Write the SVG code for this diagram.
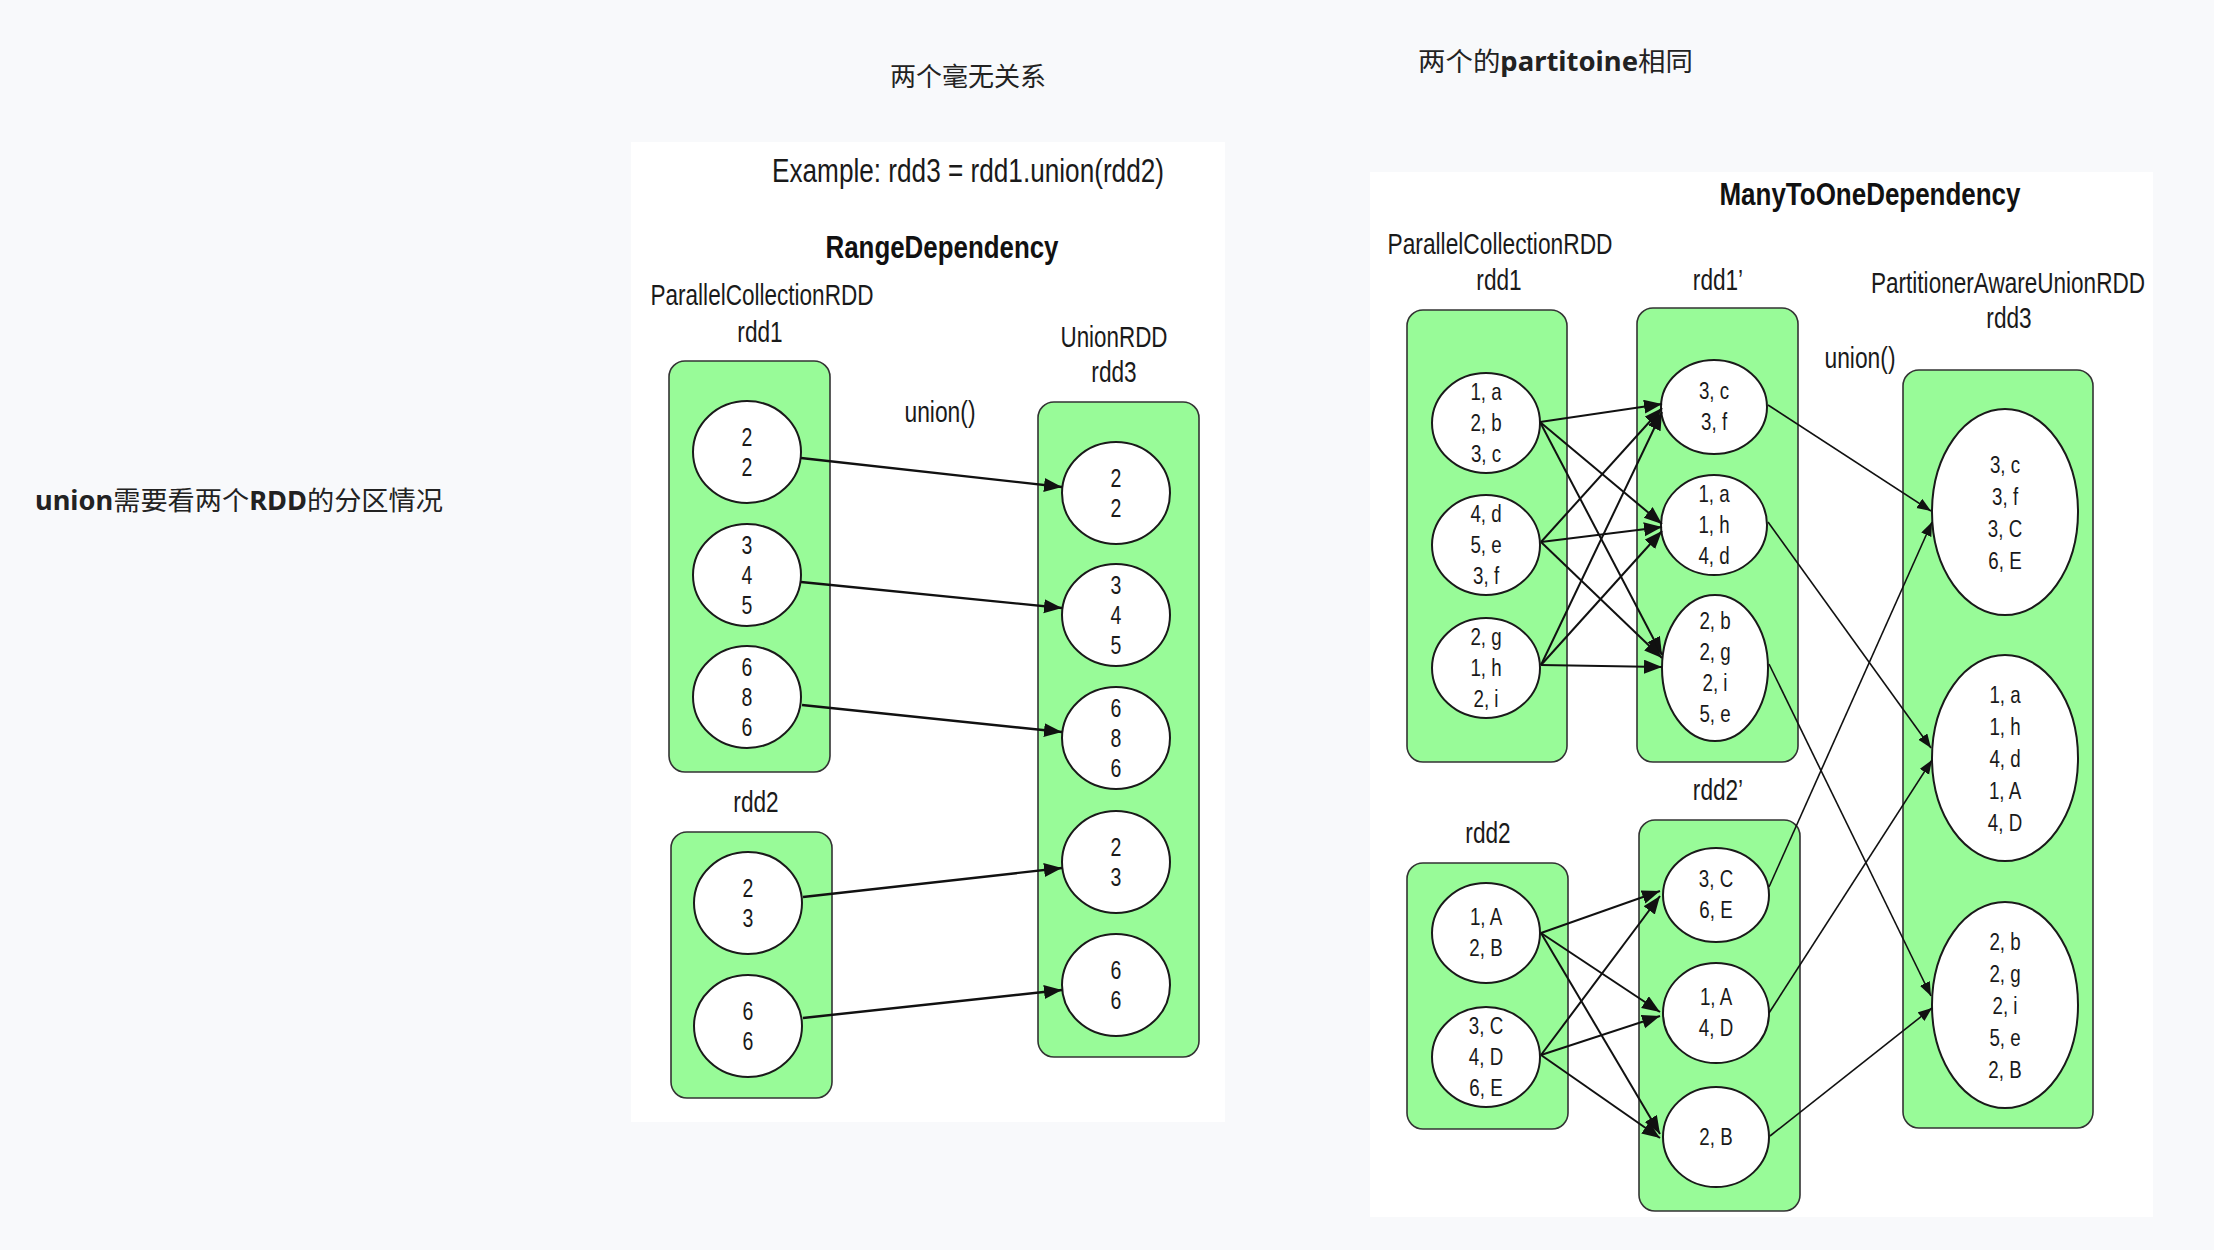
<svg xmlns="http://www.w3.org/2000/svg" width="2214" height="1250" viewBox="0 0 2214 1250">
<style>
.lbl{font-family:"Liberation Sans",Arial,sans-serif;font-size:29px;fill:#1a1a1a;text-anchor:middle}
.ttl{font-family:"Liberation Sans",Arial,sans-serif;font-size:31px;font-weight:bold;fill:#111;text-anchor:middle}
.ct{font-family:"Liberation Sans",Arial,sans-serif;font-size:25px;fill:#1a1a1a;text-anchor:middle}
.cr{font-family:"Liberation Sans",Arial,sans-serif;font-size:24px;fill:#1a1a1a;text-anchor:middle}
.sx,.ct,.cr{transform-box:fill-box;transform-origin:center;transform:scaleX(0.78)}
.note{font-family:"Noto Sans CJK SC","Noto Sans",sans-serif;font-size:26px;fill:#222}
.hb{font-family:"Noto Sans","Noto Sans CJK SC",sans-serif;font-weight:bold}
.box{fill:#98fb98;stroke:#333;stroke-width:1.6}
.cir{fill:#fff;stroke:#1a1a1a;stroke-width:2}
.a1{stroke:#111;stroke-width:2.4;fill:none;marker-end:url(#ah1)}
.a2{stroke:#111;stroke-width:2;fill:none;marker-end:url(#ah2)}
.a3{stroke:#111;stroke-width:1.6;fill:none;marker-end:url(#ah3)}
</style>
<defs>
<marker id="ah1" markerUnits="userSpaceOnUse" markerWidth="20" markerHeight="16" refX="18" refY="7" orient="auto"><path d="M0,0 L18,7 L0,14 z" fill="#111"/></marker>
<marker id="ah2" markerUnits="userSpaceOnUse" markerWidth="20" markerHeight="16" refX="18" refY="7" orient="auto"><path d="M0,0 L18,7 L0,14 z" fill="#111"/></marker>
<marker id="ah3" markerUnits="userSpaceOnUse" markerWidth="16" markerHeight="12" refX="14" refY="5.5" orient="auto"><path d="M0,0 L14,5.5 L0,11 z" fill="#111"/></marker>
</defs>
<rect x="0" y="0" width="2214" height="1250" fill="#f8f9fb"/>

<g id="notes">
<text class="note" x="968" y="86" text-anchor="middle">两个毫无关系</text>
<text class="note" x="1418" y="71" textLength="275" lengthAdjust="spacingAndGlyphs">两个的<tspan class="hb">partitoine</tspan>相同</text>
<text class="note" x="35" y="510" textLength="408" lengthAdjust="spacingAndGlyphs"><tspan class="hb">union</tspan>需要看两个<tspan class="hb">RDD</tspan>的分区情况</text>
</g>

<g id="panel-range">
<rect x="631" y="142" width="594" height="980" fill="#fff"/>
<text class="lbl" x="968" y="182" style="font-size:34px" textLength="392" lengthAdjust="spacingAndGlyphs">Example: rdd3 = rdd1.union(rdd2)</text>
<text class="ttl" x="942" y="258" textLength="233" lengthAdjust="spacingAndGlyphs">RangeDependency</text>
<text class="lbl" x="762" y="305" textLength="223" lengthAdjust="spacingAndGlyphs">ParallelCollectionRDD</text>
<text class="lbl sx" x="760" y="342">rdd1</text>
<text class="lbl" x="1114" y="347" textLength="107" lengthAdjust="spacingAndGlyphs">UnionRDD</text>
<text class="lbl sx" x="1114" y="382">rdd3</text>
<text class="lbl" x="940" y="422" textLength="71" lengthAdjust="spacingAndGlyphs">union()</text>
<text class="lbl sx" x="756" y="812">rdd2</text>
</g>

<g id="rangeRdd1">
<rect class="box" x="669" y="361" width="161" height="411" rx="16"/>
<ellipse class="cir" cx="747" cy="452" rx="54" ry="51"/>
<text class="ct" x="747" y="446">2</text><text class="ct" x="747" y="476">2</text>
<ellipse class="cir" cx="747" cy="575" rx="54" ry="51"/>
<text class="ct" x="747" y="554">3</text><text class="ct" x="747" y="584">4</text><text class="ct" x="747" y="614">5</text>
<ellipse class="cir" cx="747" cy="697" rx="54" ry="51"/>
<text class="ct" x="747" y="676">6</text><text class="ct" x="747" y="706">8</text><text class="ct" x="747" y="736">6</text>
</g>

<g id="rangeRdd2">
<rect class="box" x="671" y="832" width="161" height="266" rx="16"/>
<ellipse class="cir" cx="748" cy="903" rx="54" ry="51"/>
<text class="ct" x="748" y="897">2</text><text class="ct" x="748" y="927">3</text>
<ellipse class="cir" cx="748" cy="1026" rx="54" ry="51"/>
<text class="ct" x="748" y="1020">6</text><text class="ct" x="748" y="1050">6</text>
</g>

<g id="rangeRdd3">
<rect class="box" x="1038" y="402" width="161" height="655" rx="16"/>
<ellipse class="cir" cx="1116" cy="493" rx="54" ry="51"/>
<text class="ct" x="1116" y="487">2</text><text class="ct" x="1116" y="517">2</text>
<ellipse class="cir" cx="1116" cy="615" rx="54" ry="51"/>
<text class="ct" x="1116" y="594">3</text><text class="ct" x="1116" y="624">4</text><text class="ct" x="1116" y="654">5</text>
<ellipse class="cir" cx="1116" cy="738" rx="54" ry="51"/>
<text class="ct" x="1116" y="717">6</text><text class="ct" x="1116" y="747">8</text><text class="ct" x="1116" y="777">6</text>
<ellipse class="cir" cx="1116" cy="862" rx="54" ry="51"/>
<text class="ct" x="1116" y="856">2</text><text class="ct" x="1116" y="886">3</text>
<ellipse class="cir" cx="1116" cy="985" rx="54" ry="51"/>
<text class="ct" x="1116" y="979">6</text><text class="ct" x="1116" y="1009">6</text>
</g>

<g id="panel-many">
<rect x="1370" y="172" width="783" height="1045" fill="#fff"/>
<text class="ttl" x="1870" y="205" textLength="301" lengthAdjust="spacingAndGlyphs">ManyToOneDependency</text>
<text class="lbl" x="1500" y="254" textLength="225" lengthAdjust="spacingAndGlyphs">ParallelCollectionRDD</text>
<text class="lbl sx" x="1499" y="290">rdd1</text>
<text class="lbl sx" x="1718" y="290">rdd1’</text>
<text class="lbl" x="2008" y="293" textLength="274" lengthAdjust="spacingAndGlyphs">PartitionerAwareUnionRDD</text>
<text class="lbl sx" x="2009" y="328">rdd3</text>
<text class="lbl" x="1860" y="368" textLength="71" lengthAdjust="spacingAndGlyphs">union()</text>
<text class="lbl sx" x="1718" y="800">rdd2’</text>
<text class="lbl sx" x="1488" y="843">rdd2</text>
</g>

<g id="mRdd1">
<rect class="box" x="1407" y="310" width="160" height="452" rx="16"/>
<ellipse class="cir" cx="1486" cy="423" rx="54" ry="50"/>
<text class="cr" x="1486" y="400">1, a</text><text class="cr" x="1486" y="431">2, b</text><text class="cr" x="1486" y="462">3, c</text>
<ellipse class="cir" cx="1486" cy="545" rx="54" ry="50"/>
<text class="cr" x="1486" y="522">4, d</text><text class="cr" x="1486" y="553">5, e</text><text class="cr" x="1486" y="584">3, f</text>
<ellipse class="cir" cx="1486" cy="668" rx="54" ry="50"/>
<text class="cr" x="1486" y="645">2, g</text><text class="cr" x="1486" y="676">1, h</text><text class="cr" x="1486" y="707">2, i</text>
</g>

<g id="mRdd1p">
<rect class="box" x="1637" y="308" width="161" height="454" rx="16"/>
<ellipse class="cir" cx="1714" cy="407" rx="53" ry="47"/>
<text class="cr" x="1714" y="399">3, c</text><text class="cr" x="1714" y="430">3, f</text>
<ellipse class="cir" cx="1714" cy="525" rx="53" ry="50"/>
<text class="cr" x="1714" y="502">1, a</text><text class="cr" x="1714" y="533">1, h</text><text class="cr" x="1714" y="564">4, d</text>
<ellipse class="cir" cx="1715" cy="668" rx="53" ry="73"/>
<text class="cr" x="1715" y="629">2, b</text><text class="cr" x="1715" y="660">2, g</text><text class="cr" x="1715" y="691">2, i</text><text class="cr" x="1715" y="722">5, e</text>
</g>

<g id="mRdd2">
<rect class="box" x="1407" y="863" width="161" height="266" rx="16"/>
<ellipse class="cir" cx="1486" cy="933" rx="54" ry="50"/>
<text class="cr" x="1486" y="925">1, A</text><text class="cr" x="1486" y="956">2, B</text>
<ellipse class="cir" cx="1486" cy="1057" rx="54" ry="50"/>
<text class="cr" x="1486" y="1034">3, C</text><text class="cr" x="1486" y="1065">4, D</text><text class="cr" x="1486" y="1096">6, E</text>
</g>

<g id="mRdd2p">
<rect class="box" x="1639" y="820" width="161" height="391" rx="16"/>
<ellipse class="cir" cx="1716" cy="895" rx="53" ry="47"/>
<text class="cr" x="1716" y="887">3, C</text><text class="cr" x="1716" y="918">6, E</text>
<ellipse class="cir" cx="1716" cy="1013" rx="53" ry="50"/>
<text class="cr" x="1716" y="1005">1, A</text><text class="cr" x="1716" y="1036">4, D</text>
<ellipse class="cir" cx="1716" cy="1137" rx="53" ry="50"/>
<text class="cr" x="1716" y="1145">2, B</text>
</g>

<g id="mRdd3">
<rect class="box" x="1903" y="370" width="190" height="758" rx="16"/>
<ellipse class="cir" cx="2005" cy="512" rx="73" ry="103"/>
<text class="cr" x="2005" y="473">3, c</text><text class="cr" x="2005" y="505">3, f</text><text class="cr" x="2005" y="537">3, C</text><text class="cr" x="2005" y="569">6, E</text>
<ellipse class="cir" cx="2005" cy="758" rx="73" ry="103"/>
<text class="cr" x="2005" y="703">1, a</text><text class="cr" x="2005" y="735">1, h</text><text class="cr" x="2005" y="767">4, d</text><text class="cr" x="2005" y="799">1, A</text><text class="cr" x="2005" y="831">4, D</text>
<ellipse class="cir" cx="2005" cy="1005" rx="73" ry="103"/>
<text class="cr" x="2005" y="950">2, b</text><text class="cr" x="2005" y="982">2, g</text><text class="cr" x="2005" y="1014">2, i</text><text class="cr" x="2005" y="1046">5, e</text><text class="cr" x="2005" y="1078">2, B</text>
</g>

<g id="connectors">
<line class="a1" x1="801" y1="458" x2="1062" y2="487"/>
<line class="a1" x1="801" y1="582" x2="1062" y2="608"/>
<line class="a1" x1="802" y1="705" x2="1062" y2="732"/>
<line class="a1" x1="803" y1="897" x2="1062" y2="868"/>
<line class="a1" x1="803" y1="1018" x2="1062" y2="990"/>

<line class="a2" x1="1540" y1="422" x2="1662" y2="404"/>
<line class="a2" x1="1540" y1="422" x2="1662" y2="524"/>
<line class="a2" x1="1540" y1="422" x2="1662" y2="655"/>
<line class="a2" x1="1541" y1="542" x2="1662" y2="408"/>
<line class="a2" x1="1541" y1="542" x2="1662" y2="527"/>
<line class="a2" x1="1541" y1="542" x2="1662" y2="658"/>
<line class="a2" x1="1541" y1="665" x2="1662" y2="412"/>
<line class="a2" x1="1541" y1="665" x2="1662" y2="531"/>
<line class="a2" x1="1541" y1="665" x2="1662" y2="667"/>

<line class="a2" x1="1541" y1="933" x2="1660" y2="891"/>
<line class="a2" x1="1541" y1="933" x2="1660" y2="1012"/>
<line class="a2" x1="1541" y1="933" x2="1660" y2="1134"/>
<line class="a2" x1="1541" y1="1055" x2="1660" y2="896"/>
<line class="a2" x1="1541" y1="1055" x2="1660" y2="1016"/>
<line class="a2" x1="1541" y1="1055" x2="1660" y2="1138"/>

<line class="a3" x1="1768" y1="405" x2="1931" y2="511"/>
<line class="a3" x1="1769" y1="887" x2="1932" y2="522"/>
<line class="a3" x1="1768" y1="522" x2="1931" y2="748"/>
<line class="a3" x1="1769" y1="1013" x2="1932" y2="760"/>
<line class="a3" x1="1769" y1="664" x2="1931" y2="996"/>
<line class="a3" x1="1770" y1="1136" x2="1932" y2="1008"/>
</g>
</svg>
